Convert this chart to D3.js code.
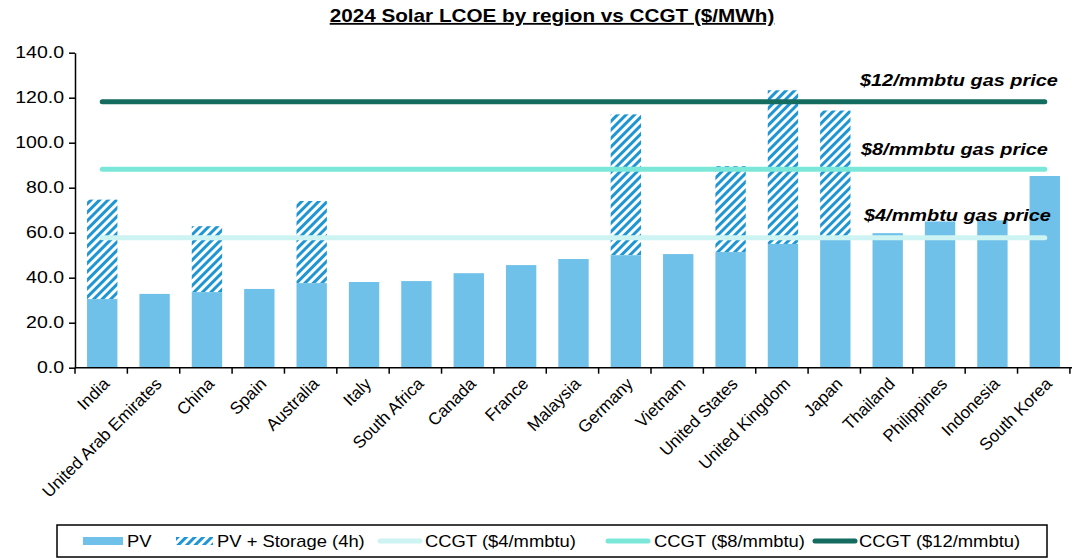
<!DOCTYPE html>
<html>
<head>
<meta charset="utf-8">
<script src="https://cdn.jsdelivr.net/npm/d3@7"></script>
<style>
body { margin:0; background:white; }
text { font-family: Arial, "Liberation Sans", sans-serif; }
</style>
</head>
<body>
<svg id="graph"></svg>
<script>
var countries = ["India","United Arab Emirates","China","Spain","Australia","Italy",
    "South Africa","Canada","France","Malaysia","Germany","Vietnam","United States",
    "United Kingdom","Japan","Thailand","Philippines","Indonesia","South Korea"];

// PV LCOE
var pv = [30.5,32.8,33.6,35,37.6,38.1,38.5,42,45.6,48.3,50,50.5,51.4,55,56.8,59.8,65,65.5,85.2];

// PV + storage (4h) total, null where not shown
var pvStorage = [74.7,null,62.9,null,74.1,null,null,null,null,null,112.6,null,89.6,123.3,114.3,null,null,null,null];

// CCGT at gas prices
var gasPrices = ["$4/mmbtu","$8/mmbtu","$12/mmbtu"];
var ccgt = [57.8,88.2,118.2];

var yTicks = [0,20,40,60,80,100,120,140];

var colors = {pv:"#70c1e9", hatch:"#1f96d4", gas:["#cdf4f2","#7be7d9","#146b5f"]};

var screen = {width:1080, height:560};
var margins = {top:52.7, left:75, right:8, bottom:192.3};
var graph = {
    width:screen.width-margins.left-margins.right,
    height:screen.height-margins.top-margins.bottom
};

// text in the source is a bit wider than Arial, stretch it
var wideText = function(sel, x, y, sx)
{
    return sel.append("text")
        .attr("transform","translate("+x+","+y+") scale("+sx+",1)");
}

var svg = d3.select("#graph")
    .attr("width",screen.width)
    .attr("height",screen.height);

var defs = svg.append("defs");
var pat = defs.append("pattern")
    .attr("id","hatch")
    .attr("patternUnits","userSpaceOnUse")
    .attr("width",6)
    .attr("height",6)
    .attr("patternTransform","rotate(45)");
pat.append("rect").attr("width",6).attr("height",6).attr("fill","white");
pat.append("rect").attr("width",3).attr("height",6).attr("fill",colors.hatch);

var xScale = d3.scaleBand()
    .domain(countries)
    .range([0,graph.width])
    .paddingInner(0.42)
    .paddingOuter(0.23);

var yScale = d3.scaleLinear()
    .domain([0,140])
    .range([graph.height,0]);

var g = svg.append("g")
    .attr("transform","translate("+margins.left+","+margins.top+")");

// title
wideText(svg,552,22,1.15)
    .attr("text-anchor","middle")
    .style("font-size","18px")
    .style("font-weight","bold")
    .style("text-decoration","underline")
    .text("2024 Solar LCOE by region vs CCGT ($/MWh)");

// storage bars (hatched)
g.selectAll("rect.storage")
    .data(countries.filter(function(c,i){ return pvStorage[i]!=null; }))
    .enter()
    .append("rect")
    .classed("storage",true)
    .attr("x",function(c){ return xScale(c); })
    .attr("width",xScale.bandwidth())
    .attr("y",function(c){ return yScale(pvStorage[countries.indexOf(c)]); })
    .attr("height",function(c){
        var i = countries.indexOf(c);
        return yScale(pv[i])-yScale(pvStorage[i]);
    })
    .attr("fill","url(#hatch)");

// pv bars
g.selectAll("rect.pv")
    .data(countries)
    .enter()
    .append("rect")
    .classed("pv",true)
    .attr("x",function(c){ return xScale(c); })
    .attr("width",xScale.bandwidth())
    .attr("y",function(c,i){ return yScale(pv[i]); })
    .attr("height",function(c,i){ return graph.height-yScale(pv[i]); })
    .attr("fill",colors.pv);

// CCGT lines
var x0 = xScale(countries[0])+xScale.bandwidth()/2;
var x1 = xScale(countries[countries.length-1])+xScale.bandwidth()/2;
g.selectAll("line.gas")
    .data(ccgt)
    .enter()
    .append("line")
    .attr("x1",x0)
    .attr("x2",x1)
    .attr("y1",function(d){ return yScale(d); })
    .attr("y2",function(d){ return yScale(d); })
    .attr("stroke",function(d,i){ return colors.gas[i]; })
    .attr("stroke-width",5)
    .attr("stroke-linecap","round");

// gas price labels
var labelX = [864,861,860];
var labelDy = [-17,-14,-16];
ccgt.forEach(function(d,i){
    wideText(g,labelX[i]-margins.left,yScale(d)+labelDy[i],1.17)
        .style("font-size","17px")
        .style("font-weight","bold")
        .style("font-style","italic")
        .text(gasPrices[i]+" gas price");
});

// y axis
var yAxis = d3.axisLeft(yScale)
    .tickValues(yTicks)
    .tickFormat(d3.format(".1f"))
    .tickSize(6)
    .tickSizeOuter(0);
var ya = g.append("g").call(yAxis);
ya.select(".domain").attr("stroke","black").attr("stroke-width",1.5);
ya.selectAll(".tick line").attr("stroke","black").attr("stroke-width",1.5);
ya.selectAll(".tick text")
    .attr("x",0)
    .attr("transform","translate(-11,0) scale(1.22,1)")
    .style("font-size","16px")
    .style("font-family","Arial, 'Liberation Sans', sans-serif")
    .attr("fill","black");

// x axis
var xa = g.append("g").attr("transform","translate(0,"+graph.height+")");
xa.append("line")
    .attr("x1",0).attr("x2",graph.width)
    .attr("stroke","black").attr("stroke-width",1.5);
var step = xScale.step();
xa.selectAll("line.tk")
    .data(d3.range(countries.length+1))
    .enter()
    .append("line")
    .attr("x1",function(i){ return i*step; })
    .attr("x2",function(i){ return i*step; })
    .attr("y1",0).attr("y2",6)
    .attr("stroke","black").attr("stroke-width",1.5);
xa.selectAll("text")
    .data(countries)
    .enter()
    .append("text")
    .attr("transform",function(c){
        return "translate("+(xScale(c)+xScale.bandwidth()/2+4)+",13) rotate(-45)";
    })
    .attr("text-anchor","end")
    .attr("dy","0.35em")
    .style("font-size","17px")
    .text(function(c){ return c; });

// legend
var legend = svg.append("g");
legend.append("rect")
    .attr("x",57).attr("y",525)
    .attr("width",990).attr("height",32)
    .attr("fill","white")
    .attr("stroke","black")
    .attr("stroke-width",1.5);

legend.append("rect")
    .attr("x",83).attr("y",537).attr("width",40).attr("height",8)
    .attr("fill",colors.pv);
legend.append("rect")
    .attr("x",176).attr("y",537).attr("width",37).attr("height",8)
    .attr("fill","url(#hatch)");

var lineX = [380,608,815];
legend.selectAll("line")
    .data(ccgt)
    .enter()
    .append("line")
    .attr("x1",function(d,i){ return lineX[i]; })
    .attr("x2",function(d,i){ return lineX[i]+40; })
    .attr("y1",541).attr("y2",541)
    .attr("stroke",function(d,i){ return colors.gas[i]; })
    .attr("stroke-width",5)
    .attr("stroke-linecap","round");

var legendText = ["PV","PV + Storage (4h)"].concat(gasPrices.map(function(p){ return "CCGT ("+p+")"; }));
var textX = [127,217,425,654,859];
legendText.forEach(function(t,i){
    wideText(legend,textX[i],547,1.15)
        .style("font-size","16px")
        .text(t);
});
</script>
</body>
</html>
